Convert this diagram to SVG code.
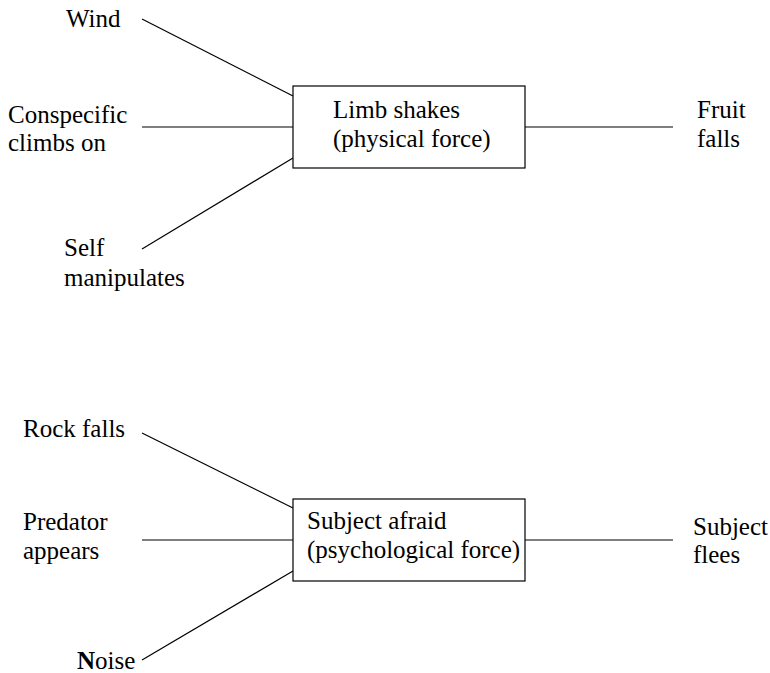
<svg xmlns="http://www.w3.org/2000/svg" width="770" height="673" viewBox="0 0 770 673">
<style>
text{font-family:"Liberation Serif","Times New Roman",serif;font-size:25px;fill:#000}
.box{fill:#fff;stroke:#000;stroke-width:1.2}
.ln{stroke:#000;stroke-width:1.2;fill:none}
</style>
<rect width="770" height="673" fill="#fff"/>
<g id="connectors">
<line class="ln" x1="142" y1="19" x2="293" y2="96"/>
<line class="ln" x1="142" y1="127" x2="293" y2="127"/>
<line class="ln" x1="142" y1="249" x2="293" y2="158"/>
<line class="ln" x1="525" y1="127" x2="673" y2="127"/>
<line class="ln" x1="142" y1="433" x2="293" y2="508"/>
<line class="ln" x1="142" y1="540" x2="293" y2="540"/>
<line class="ln" x1="142" y1="660" x2="293" y2="571"/>
<line class="ln" x1="525" y1="540" x2="673" y2="540"/>
</g>
<g id="wind"><text x="66" y="27">Wind</text></g>
<g id="conspecific"><text x="8" y="123">Conspecific</text><text x="8" y="151">climbs on</text></g>
<g id="self"><text x="64" y="256">Self</text><text x="64" y="286">manipulates</text></g>
<g id="limb"><rect class="box" x="293" y="86" width="232" height="82"/><text x="333" y="118">Limb shakes</text><text x="333" y="147">(physical force)</text></g>
<g id="fruit"><text x="697" y="118">Fruit</text><text x="697" y="147">falls</text></g>
<g id="rock"><text x="23" y="437">Rock falls</text></g>
<g id="predator"><text x="23" y="530">Predator</text><text x="23" y="559">appears</text></g>
<g id="noise"><text x="77" y="669"><tspan font-weight="bold">N</tspan>oise</text></g>
<g id="afraid"><rect class="box" x="293" y="499" width="232" height="82"/><text x="307" y="529">Subject afraid</text><text x="307" y="558">(psychological force)</text></g>
<g id="flees"><text x="693" y="535">Subject</text><text x="693" y="563">flees</text></g>
</svg>
